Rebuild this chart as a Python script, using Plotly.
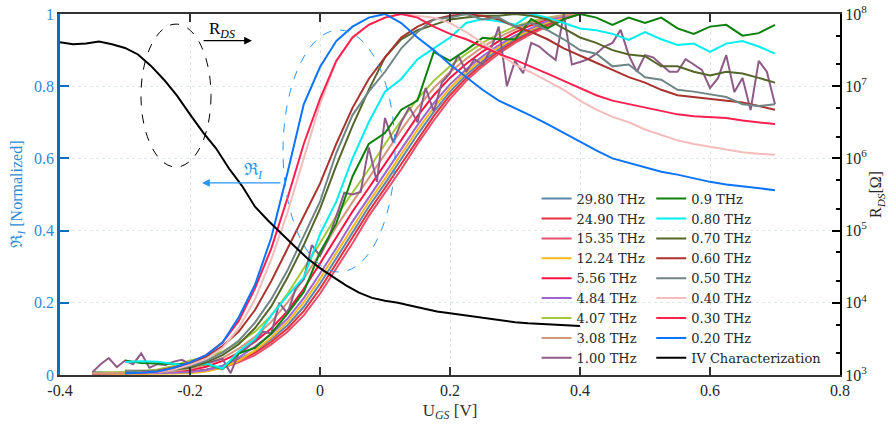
import numpy as np
import plotly.graph_objects as go

# ---------------- data ----------------
# Gate-voltage sampling grids [V]
UGS_START_THZ, UGS_START_SUB, UGS_STEP = -0.35, -0.30, 0.025
UGS_START_1THZ, UGS_STEP_1THZ = -0.35, 0.0125
UGS_START_IV, UGS_STEP_IV = -0.40, 0.02

# Normalized current responsivity, THz sources (-0.35 ... 0.40 V)
r_29_80 = [0.008, 0.006, 0.005, 0.005, 0.006, 0.007, 0.010, 0.015, 0.026, 0.043, 0.067, 0.099, 0.138, 0.189, 0.253, 0.323,
           0.395, 0.466, 0.531, 0.598, 0.666, 0.729, 0.785, 0.831, 0.869, 0.902, 0.930, 0.953, 0.973, 0.990, 1.0]
r_24_90 = [0.003, 0.003, 0.003, 0.004, 0.006, 0.007, 0.009, 0.014, 0.023, 0.039, 0.061, 0.092, 0.129, 0.177, 0.239, 0.309,
           0.380, 0.453, 0.518, 0.584, 0.653, 0.717, 0.775, 0.823, 0.862, 0.896, 0.925, 0.949, 0.969, 0.988, 1.0]
r_15_35 = [0.003, 0.003, 0.003, 0.004, 0.005, 0.006, 0.008, 0.012, 0.020, 0.035, 0.055, 0.085, 0.120, 0.165, 0.225, 0.295,
           0.365, 0.440, 0.505, 0.570, 0.640, 0.705, 0.765, 0.815, 0.855, 0.890, 0.920, 0.945, 0.965, 0.985, 1.0]
r_12_24 = [0.002, 0.002, 0.002, 0.003, 0.004, 0.004, 0.005, 0.010, 0.020, 0.040, 0.068, 0.104, 0.147, 0.201, 0.267, 0.337,
           0.410, 0.479, 0.544, 0.612, 0.679, 0.741, 0.795, 0.839, 0.876, 0.908, 0.935, 0.957, 0.977, 0.990, 1.0]
r_5_56 = [0.004, 0.005, 0.005, 0.006, 0.007, 0.009, 0.014, 0.023, 0.039, 0.061, 0.092, 0.129, 0.177, 0.239, 0.309, 0.380,
          0.453, 0.518, 0.584, 0.653, 0.717, 0.775, 0.823, 0.862, 0.896, 0.925, 0.949, 0.969, 0.985, 0.995, 1.0]
r_4_84 = [0.004, 0.004, 0.004, 0.004, 0.005, 0.006, 0.008, 0.013, 0.025, 0.048, 0.079, 0.113, 0.156, 0.213, 0.281, 0.351,
          0.425, 0.492, 0.557, 0.626, 0.692, 0.753, 0.805, 0.847, 0.883, 0.914, 0.940, 0.961, 0.981, 0.994, 1.0]
r_4_07 = [0.006, 0.007, 0.008, 0.010, 0.015, 0.025, 0.040, 0.050, 0.065, 0.090, 0.120, 0.165, 0.225, 0.295, 0.365, 0.440,
          0.505, 0.570, 0.640, 0.705, 0.765, 0.815, 0.855, 0.890, 0.920, 0.945, 0.965, 0.980, 0.990, 0.997, 1.0]
r_3_08 = [0.005, 0.005, 0.006, 0.007, 0.008, 0.011, 0.017, 0.029, 0.047, 0.073, 0.106, 0.147, 0.201, 0.267, 0.337, 0.410,
          0.479, 0.544, 0.612, 0.679, 0.741, 0.795, 0.839, 0.876, 0.908, 0.935, 0.957, 0.975, 0.988, 0.996, 1.0]

# 1.00 THz (-0.35 ... 0.70 V, finer sampling)
r_1_00 = [0.008, 0.030, 0.047, 0.022, 0.040, 0.030, 0.060, 0.020, 0.030, 0.028, 0.037, 0.042, 0.030, 0.036, 0.032, 0.038,
          0.045, 0.005, 0.060, 0.075, 0.095, 0.120, 0.115, 0.200, 0.170, 0.240, 0.265, 0.360, 0.330, 0.375, 0.440, 0.505,
          0.500, 0.507, 0.630, 0.535, 0.712, 0.645, 0.700, 0.742, 0.700, 0.795, 0.730, 0.810, 0.836, 0.886, 0.840, 0.875,
          0.860, 0.900, 0.965, 0.800, 0.870, 0.836, 0.920, 0.910, 0.890, 0.873, 1.000, 0.860, 0.867, 0.875, 0.890, 0.910,
          0.920, 0.956, 0.886, 0.840, 0.886, 0.880, 0.860, 0.840, 0.840, 0.875, 0.860, 0.845, 0.795, 0.823, 0.886, 0.784,
          0.823, 0.734, 0.870, 0.840, 0.750]

# Sub-THz sources (-0.30 ... 0.70 V)
r_0_9 = [0.040, 0.033, 0.032, 0.030, 0.030, 0.030, 0.016, 0.060, 0.075, 0.115, 0.170, 0.230, 0.340, 0.420, 0.550, 0.640,
         0.670, 0.735, 0.760, 0.895, 0.870, 0.900, 0.934, 0.930, 0.930, 0.986, 0.960, 0.986, 1.000, 0.990, 0.970, 0.990,
         0.975, 0.990, 0.960, 0.945, 0.965, 0.970, 0.940, 0.947, 0.970]
r_0_80 = [0.036, 0.038, 0.037, 0.030, 0.025, 0.032, 0.018, 0.065, 0.100, 0.165, 0.220, 0.270, 0.390, 0.480, 0.600, 0.700,
          0.785, 0.820, 0.875, 0.905, 0.935, 0.975, 0.986, 0.980, 0.970, 1.000, 0.990, 0.975, 0.960, 0.955, 0.945, 0.928,
          0.950, 0.930, 0.914, 0.918, 0.895, 0.918, 0.925, 0.910, 0.890]
r_0_70 = [0.012, 0.012, 0.012, 0.015, 0.020, 0.035, 0.055, 0.085, 0.130, 0.190, 0.270, 0.360, 0.460, 0.580, 0.690, 0.790,
          0.880, 0.930, 0.955, 0.970, 0.985, 0.990, 0.995, 0.995, 1.000, 0.995, 0.985, 0.960, 0.935, 0.920, 0.900, 0.888,
          0.883, 0.855, 0.855, 0.840, 0.830, 0.840, 0.835, 0.823, 0.810]
r_0_60 = [0.005, 0.007, 0.012, 0.020, 0.030, 0.050, 0.080, 0.120, 0.180, 0.260, 0.350, 0.440, 0.530, 0.640, 0.740, 0.820,
          0.880, 0.935, 0.965, 0.985, 0.995, 1.000, 0.995, 0.985, 0.965, 0.950, 0.930, 0.905, 0.886, 0.865, 0.845, 0.825,
          0.810, 0.790, 0.775, 0.770, 0.765, 0.760, 0.755, 0.745, 0.735]
r_0_50 = [0.012, 0.010, 0.012, 0.016, 0.025, 0.040, 0.062, 0.095, 0.145, 0.210, 0.290, 0.385, 0.480, 0.615, 0.720, 0.785,
          0.840, 0.905, 0.950, 0.985, 0.990, 1.000, 0.985, 0.990, 0.965, 0.975, 0.955, 0.930, 0.900, 0.890, 0.855, 0.860,
          0.825, 0.818, 0.790, 0.785, 0.777, 0.770, 0.750, 0.745, 0.750]
r_0_40 = [0.004, 0.005, 0.008, 0.015, 0.028, 0.045, 0.075, 0.130, 0.210, 0.320, 0.450, 0.600, 0.750, 0.870, 0.935, 0.970,
          0.990, 1.000, 0.995, 0.990, 0.975, 0.950, 0.920, 0.890, 0.860, 0.838, 0.815, 0.790, 0.760, 0.735, 0.715, 0.700,
          0.680, 0.665, 0.650, 0.640, 0.632, 0.625, 0.617, 0.613, 0.610]
r_0_30 = [0.005, 0.006, 0.010, 0.020, 0.035, 0.055, 0.090, 0.150, 0.240, 0.350, 0.490, 0.640, 0.765, 0.870, 0.935, 0.970,
          0.990, 1.000, 0.990, 0.965, 0.945, 0.930, 0.910, 0.890, 0.873, 0.855, 0.835, 0.815, 0.795, 0.775, 0.760, 0.750,
          0.740, 0.730, 0.722, 0.717, 0.715, 0.712, 0.705, 0.700, 0.695]
r_0_20 = [0.005, 0.006, 0.010, 0.020, 0.035, 0.055, 0.090, 0.160, 0.250, 0.380, 0.560, 0.750, 0.853, 0.925, 0.965, 0.990,
          1.000, 0.975, 0.935, 0.900, 0.860, 0.825, 0.790, 0.760, 0.740, 0.718, 0.695, 0.670, 0.645, 0.622, 0.600, 0.587,
          0.574, 0.563, 0.555, 0.545, 0.535, 0.528, 0.522, 0.517, 0.512]

# DC drain-source resistance from the IV characterization [Ohm] (-0.40 ... 0.40 V)
r_ds = [4.07e7, 3.80e7, 3.89e7, 4.17e7, 3.80e7, 3.39e7, 2.75e7, 1.91e7, 1.23e7, 7.41e6, 4.07e6, 2.29e6, 1.38e6, 7.24e5,
        4.17e5, 2.14e5, 1.38e5, 9.12e4, 6.17e4, 4.17e4, 3.02e4, 2.29e4, 1.74e4, 1.38e4, 1.17e4, 1.07e4, 1.00e4, 9.12e3,
        8.32e3, 7.59e3, 7.16e3, 6.76e3, 6.31e3, 5.96e3, 5.62e3, 5.37e3, 5.19e3, 5.07e3, 4.95e3, 4.86e3, 4.79e3]

# Legend columns: (label, values, start, step, colour)
col_thz = [
    ("29.80 THz", r_29_80, UGS_START_THZ, UGS_STEP, "#5b87aa"),
    ("24.90 THz", r_24_90, UGS_START_THZ, UGS_STEP, "#e3303c"),
    ("15.35 THz", r_15_35, UGS_START_THZ, UGS_STEP, "#e8506a"),
    ("12.24 THz", r_12_24, UGS_START_THZ, UGS_STEP, "#ffb81c"),
    ("5.56 THz", r_5_56, UGS_START_THZ, UGS_STEP, "#ff1040"),
    ("4.84 THz", r_4_84, UGS_START_THZ, UGS_STEP, "#9b66d2"),
    ("4.07 THz", r_4_07, UGS_START_THZ, UGS_STEP, "#a2c93a"),
    ("3.08 THz", r_3_08, UGS_START_THZ, UGS_STEP, "#d4977b"),
    ("1.00 THz", r_1_00, UGS_START_1THZ, UGS_STEP_1THZ, "#8e5b88"),
]
col_sub = [
    ("0.9 THz", r_0_9, UGS_START_SUB, UGS_STEP, "#0c800c"),
    ("0.80 THz", r_0_80, UGS_START_SUB, UGS_STEP, "#00eeee"),
    ("0.70 THz", r_0_70, UGS_START_SUB, UGS_STEP, "#55662a"),
    ("0.60 THz", r_0_60, UGS_START_SUB, UGS_STEP, "#a8322d"),
    ("0.50 THz", r_0_50, UGS_START_SUB, UGS_STEP, "#708585"),
    ("0.40 THz", r_0_40, UGS_START_SUB, UGS_STEP, "#f5bcbc"),
    ("0.30 THz", r_0_30, UGS_START_SUB, UGS_STEP, "#ff2050"),
    ("0.20 THz", r_0_20, UGS_START_SUB, UGS_STEP, "#0b74ff"),
]

x_ticks = [-0.4, -0.2, 0, 0.2, 0.4, 0.6, 0.8]
x_ticktext = ["-0.4", "-0.2", "0", "0.2", "0.4", "0.6", "0.8"]
y_ticks = [0, 0.2, 0.4, 0.6, 0.8, 1.0]
y_ticktext = ["0", "0.2", "0.4", "0.6", "0.8", "1"]
r_ticks = [1e3, 1e4, 1e5, 1e6, 1e7, 1e8]
r_ticktext = ["10<sup>%d</sup>" % e for e in range(3, 9)]

# ---------------- figure ----------------
FONT = "Liberation Serif, Times New Roman, serif"
LEG_FONT = "DejaVu Serif, serif"
BLUE_AX = "#0a6fbd"
BLUE_TXT = "#2f8ad6"
ANN_BLUE = "#2a95f5"
DARK = "#262626"


def grid(start, step, n):
    return np.round(start + step * np.arange(n), 4)


fig = go.Figure()
for name, vals, start, step, color in col_thz:
    fig.add_trace(go.Scatter(x=grid(start, step, len(vals)), y=vals, name=name, mode="lines",
                             line=dict(color=color, width=2), legend="legend"))
for name, vals, start, step, color in col_sub:
    fig.add_trace(go.Scatter(x=grid(start, step, len(vals)), y=vals, name=name, mode="lines",
                             line=dict(color=color, width=2), legend="legend2"))
fig.add_trace(go.Scatter(x=grid(UGS_START_IV, UGS_STEP_IV, len(r_ds)), y=r_ds, name="IV Characterization",
                         mode="lines", line=dict(color="black", width=2), yaxis="y2", legend="legend2"))

# Highlight ellipses
fig.add_shape(type="circle", xref="x", yref="y", x0=-0.2754, x1=-0.1677, y0=0.576, y1=0.972,
              line=dict(color="black", width=1, dash="dash"))
fig.add_shape(type="circle", xref="x", yref="y", x0=-0.0569, x1=0.1154, y0=0.2853, y1=0.9557,
              line=dict(color=ANN_BLUE, width=1, dash="dash"))

# Arrows pointing to the axis each group belongs to
fig.add_annotation(x=-0.1046, y=0.926, ax=-0.1815, ay=0.926, xref="x", yref="y", axref="x", ayref="y",
                   showarrow=True, arrowhead=2, arrowsize=1.2, arrowwidth=1.3, arrowcolor="black", text="")
fig.add_annotation(x=-0.1815, y=0.532, ax=-0.0585, ay=0.532, xref="x", yref="y", axref="x", ayref="y",
                   showarrow=True, arrowhead=2, arrowsize=1.2, arrowwidth=1.3, arrowcolor=ANN_BLUE, text="")
fig.add_annotation(x=-0.151, y=0.955, xref="x", yref="y", showarrow=False,
                   text="R<sub><i>DS</i></sub>", font=dict(family=FONT, size=17, color="black"))
fig.add_annotation(x=-0.103, y=0.565, xref="x", yref="y", showarrow=False,
                   text="ℜ<sub><i>I</i></sub>", font=dict(family=FONT, size=17, color=ANN_BLUE))

legend_common = dict(bgcolor="rgba(0,0,0,0)", borderwidth=0, xanchor="left", yanchor="top",
                     font=dict(family=LEG_FONT, size=13, color=DARK), tracegroupgap=0, itemwidth=30)

fig.update_layout(
    width=891, height=426,
    margin=dict(l=60, r=51, t=14, b=51, autoexpand=False),
    paper_bgcolor="white", plot_bgcolor="white",
    font=dict(family=FONT, size=16, color=DARK),
    showlegend=True,
    legend=dict(x=0.611, y=0.53, **legend_common),
    legend2=dict(x=0.758, y=0.53, **legend_common),
    xaxis=dict(range=[-0.4, 0.8], tickvals=x_ticks, ticktext=x_ticktext, ticks="inside", ticklen=8,
               tickwidth=1.5, tickcolor="#333333", showline=True, linecolor="#333333", linewidth=1.5,
               mirror="ticks", showgrid=True, gridcolor="#dce5ee", griddash="dot", gridwidth=1,
               zeroline=False, automargin=False, tickfont=dict(family=FONT, size=16, color=DARK),
               title=dict(text="U<sub><i>GS</i></sub> [V]", font=dict(family=FONT, size=17, color="#333333"),
                          standoff=6)),
    yaxis=dict(range=[0, 1], tickvals=y_ticks, ticktext=y_ticktext, ticks="inside", ticklen=9,
               tickwidth=2, tickcolor=BLUE_AX, showline=True, linecolor=BLUE_AX, linewidth=2.5,
               showgrid=True, gridcolor="#dce5ee", griddash="dot", gridwidth=1, zeroline=False,
               automargin=False, tickfont=dict(family=FONT, size=16, color=BLUE_TXT),
               title=dict(text="ℜ<sub><i>I</i></sub> [Normalized]",
                          font=dict(family=FONT, size=16, color=BLUE_TXT), standoff=8)),
    yaxis2=dict(type="log", range=[3, 8], overlaying="y", side="right", tickvals=r_ticks, ticktext=r_ticktext,
                ticks="inside", ticklen=8, tickwidth=2, tickcolor="black", showline=True, linecolor="black",
                linewidth=2, showgrid=False, zeroline=False, automargin=False,
                minor=dict(ticks="inside", ticklen=4, tickwidth=1.5, tickcolor="black", showgrid=False),
                tickfont=dict(family=FONT, size=16, color=DARK),
                title=dict(text="R<sub><i>DS</i></sub>[Ω]", font=dict(family=FONT, size=16, color=DARK),
                           standoff=4)),
)

fig.write_html("out.html")
